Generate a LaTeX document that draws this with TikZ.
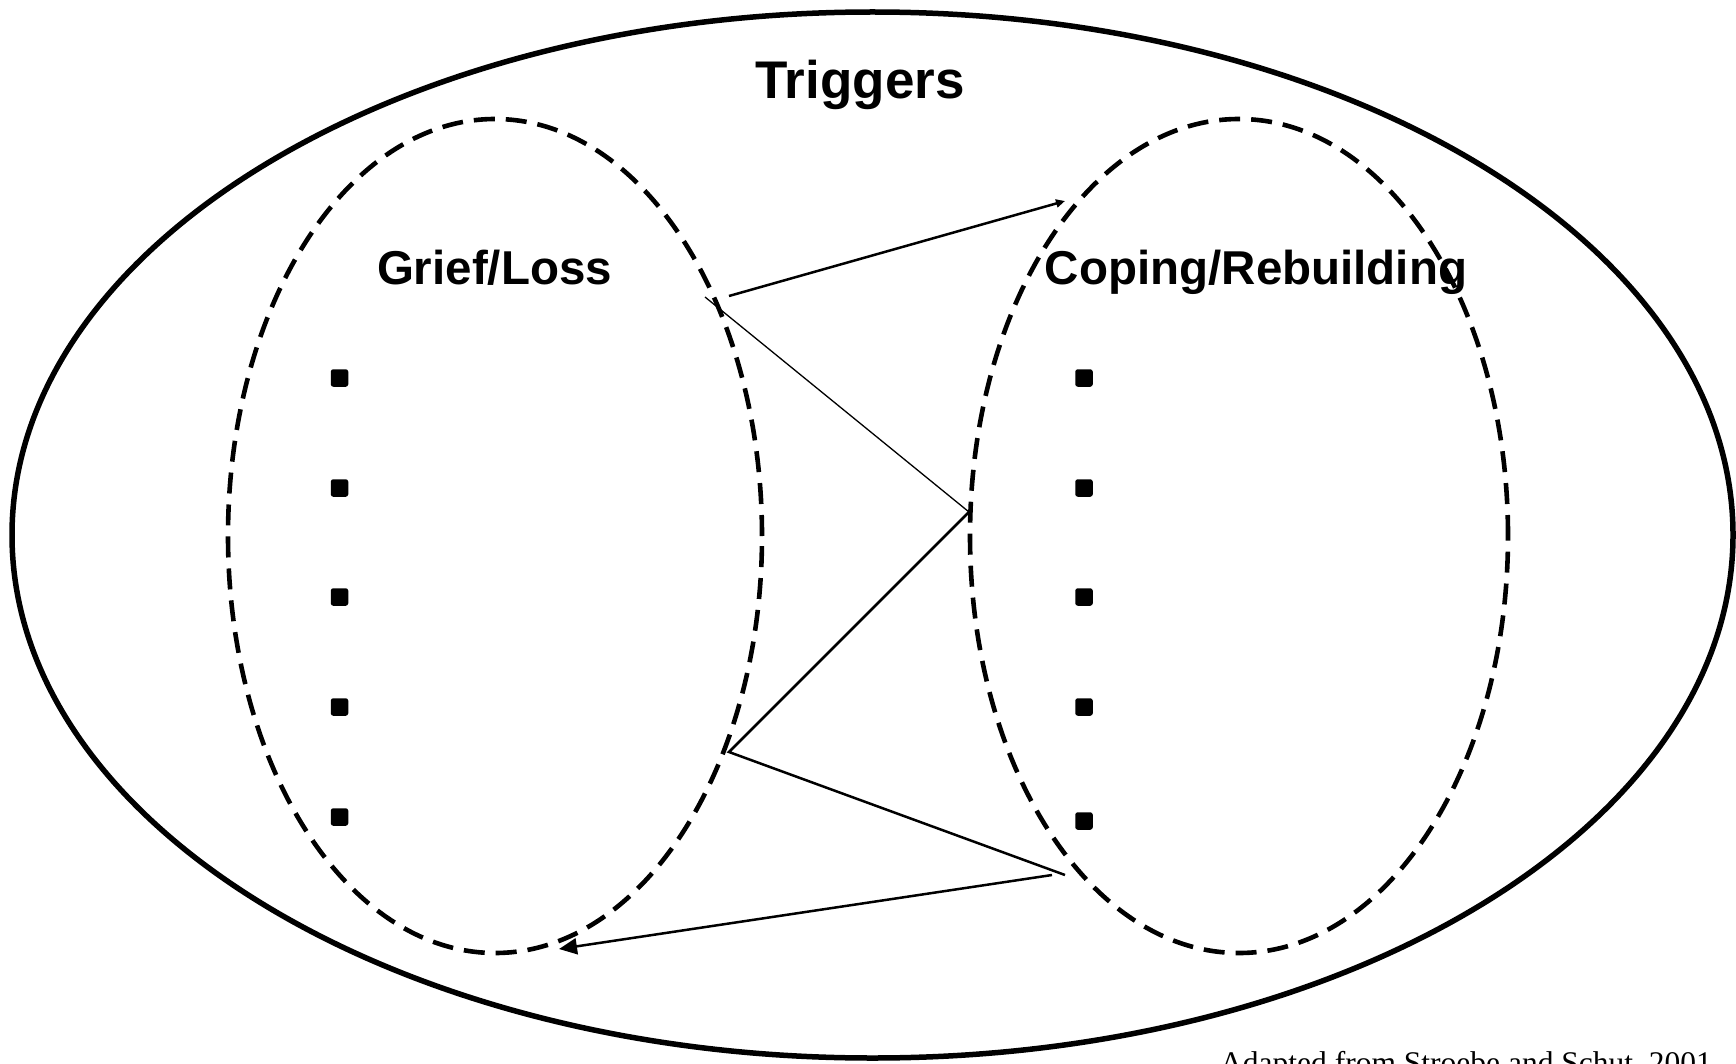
\documentclass[tikz,border=0pt]{standalone}
\usepackage{fontspec}
\setmainfont{Liberation Sans}
\newfontfamily\notefont{Liberation Serif}
\usetikzlibrary{shapes.geometric,arrows.meta}
\tikzset{
  outerring/.style={ellipse, draw, line width=5.5pt, inner sep=0pt},
  domring/.style={ellipse, draw, line width=4.6pt, dash pattern=on 21pt off 11pt, inner sep=0pt,
                 minimum width=534pt, minimum height=834pt},
  bigtitle/.style={font=\fontsize{53}{60}\selectfont\bfseries, anchor=base, inner sep=0pt},
  domtitle/.style={font=\fontsize{47.5}{54}\selectfont\bfseries, anchor=base, inner sep=0pt},
  bullet/.style={rectangle, fill=black, minimum size=17.5pt, inner sep=0pt, rounded corners=2.5pt},
  conn/.style={line width=2.5pt},
  thinconn/.style={line width=1.3pt},
  note/.style={font=\notefont\fontsize{31.5}{36}\selectfont, anchor=base west, inner sep=0pt}
}
\begin{document}
\begin{tikzpicture}[x=1pt,y=-1pt]
\useasboundingbox (0,0) rectangle (1736,1064);
\clip (0,0) rectangle (1736,1064);
\fill[white] (0,0) rectangle (1736,1064);
\node[outerring, minimum width=1721pt, minimum height=1046pt] (outer) at (872.5,535) {};
\node[domring] (grief) at (495,536) {};
\node[domring, minimum width=538pt] (coping) at (1239,536) {};
\node[bigtitle] (trig) at (860,99) {Triggers};
\node[domtitle] (gl) at (494.5,285) {Grief/Loss};
\node[domtitle] (cr) at (1256,285) {Coping/Rebuilding};
\foreach \y [count=\i] in {378,488,597,707,817} {
  \node[bullet] (gb\i) at (339.5,\y) {};
}
\foreach \y [count=\i] in {378,488,597,707,821} {
  \node[bullet] (cb\i) at (1084,\y) {};
}
\coordinate (a1) at (729,296);
\coordinate (a2) at (1065,201);
\coordinate (b1) at (705,297);
\coordinate (b2) at (969,512);
\coordinate (c2) at (729,752);
\coordinate (d2) at (1065,875);
\coordinate (e1) at (1052,875);
\coordinate (e2) at (559,949);
\draw[conn, -{Triangle[length=9pt,width=8pt]}] (a1) -- (a2);
\draw[thinconn] (b1) -- (b2);
\draw[conn, line join=miter] (b2) -- (c2) -- (d2);
\draw[conn, -{Triangle[length=18pt,width=16pt]}] (e1) -- (e2);
\node[note] (src) at (1220,1073) {Adapted from Stroebe and Schut, 2001};
\end{tikzpicture}
\end{document}
